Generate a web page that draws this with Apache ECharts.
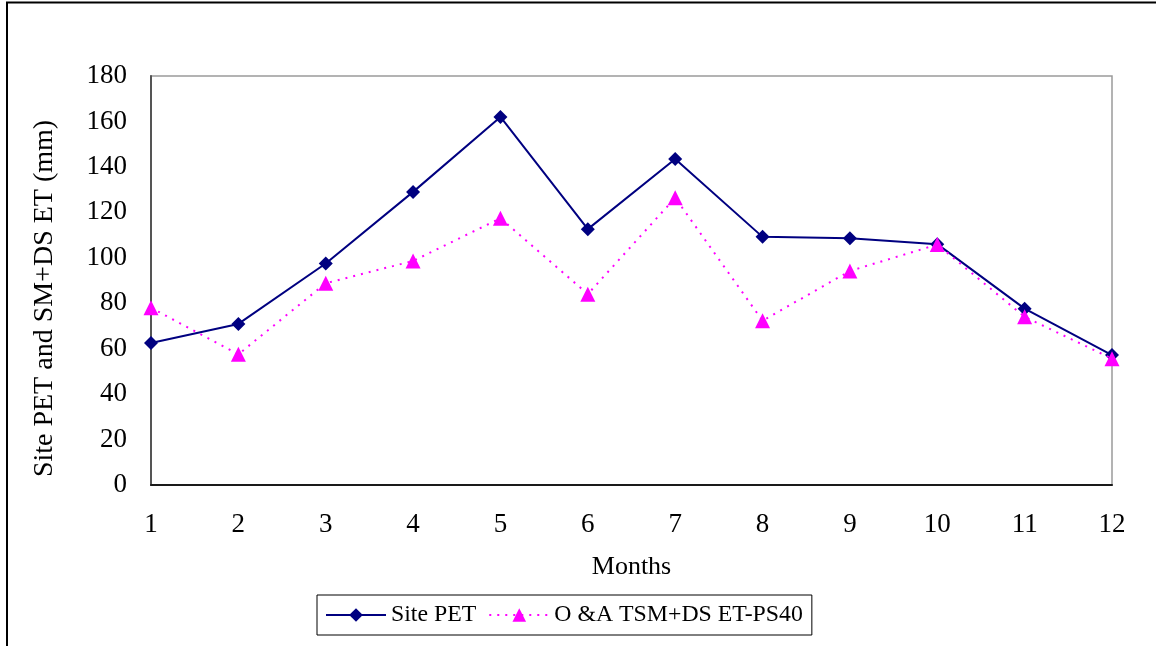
<!DOCTYPE html>
<html>
<head>
<meta charset="utf-8">
<script src="https://cdn.jsdelivr.net/npm/echarts@6/dist/echarts.min.js"></script>
<style>
  html, body { margin: 0; padding: 0; background: #fff; }
  #chart { width: 1156px; height: 646px; }
</style>
</head>
<body>
<div id="chart"></div>
<script>
// Monthly evapotranspiration (mm)
const months = ['1', '2', '3', '4', '5', '6', '7', '8', '9', '10', '11', '12'];
const sitePET = [62.5, 70.9, 97.5, 129.0, 162.0, 112.6, 143.5, 109.2, 108.6, 106.0, 77.6, 57.2];
const oaTsmDs = [78.0, 57.5, 88.8, 98.6, 117.4, 84.0, 126.4, 72.3, 94.2, 105.8, 74.0, 55.6];
const yTicks = { min: 0, max: 180, interval: 20 };

const serif = '"Liberation Serif", "DejaVu Serif", serif';

const chart = echarts.init(document.getElementById('chart'), null, { renderer: 'canvas' });

chart.setOption({
  backgroundColor: '#ffffff',
  animation: false,
  graphic: [
    {
      type: 'rect',
      shape: { x: 7, y: 2.5, width: 1200, height: 700 },
      style: { fill: 'none', stroke: '#000', lineWidth: 2 },
      z: 0
    }
  ],
  grid: {
    left: 151, top: 76, right: 44, bottom: 161,
    show: true,
    borderColor: '#9a9a9a',
    borderWidth: 1.5,
    backgroundColor: 'transparent'
  },
  legend: {
    left: 317, top: 595,
    orient: 'horizontal',
    itemWidth: 60, itemHeight: 17,
    itemGap: 12,
    padding: [8, 9, 8, 8],
    borderColor: '#000', borderWidth: 1,
    textStyle: { fontFamily: serif, fontSize: 23.8, color: '#000' },
    data: ['Site PET', 'O &A TSM+DS ET-PS40']
  },
  xAxis: {
    type: 'category',
    data: months,
    boundaryGap: false,
    name: 'Months',
    nameLocation: 'middle',
    nameGap: 69,
    nameTextStyle: { fontFamily: serif, fontSize: 26, color: '#000' },
    axisLine: { lineStyle: { color: '#1a1a1a', width: 2 } },
    axisTick: { show: false },
    axisLabel: { fontFamily: serif, fontSize: 27, color: '#000', margin: 26 },
    splitLine: { show: false }
  },
  yAxis: {
    type: 'value',
    min: yTicks.min, max: yTicks.max, interval: yTicks.interval,
    name: 'Site PET and SM+DS ET (mm)',
    nameLocation: 'middle',
    nameGap: 92,
    nameTextStyle: { fontFamily: serif, fontSize: 28, color: '#000', padding: [0, 36, 0, 0] },
    axisLine: { show: true, lineStyle: { color: '#555', width: 2 } },
    axisTick: { show: false },
    axisLabel: { fontFamily: serif, fontSize: 27, color: '#000', margin: 24 },
    splitLine: { show: false }
  },
  series: [
    {
      name: 'Site PET',
      type: 'line',
      data: sitePET,
      symbol: 'diamond',
      symbolSize: 14,
      showAllSymbol: true,
      itemStyle: { color: '#000080' },
      lineStyle: { color: '#000080', width: 2 },
      z: 3
    },
    {
      name: 'O &A TSM+DS ET-PS40',
      type: 'line',
      data: oaTsmDs,
      symbol: 'triangle',
      symbolSize: 15,
      showAllSymbol: true,
      itemStyle: { color: '#ff00ff' },
      lineStyle: { color: '#ff00ff', width: 2, type: [2, 6] },
      z: 4
    }
  ]
});
</script>
</body>
</html>
